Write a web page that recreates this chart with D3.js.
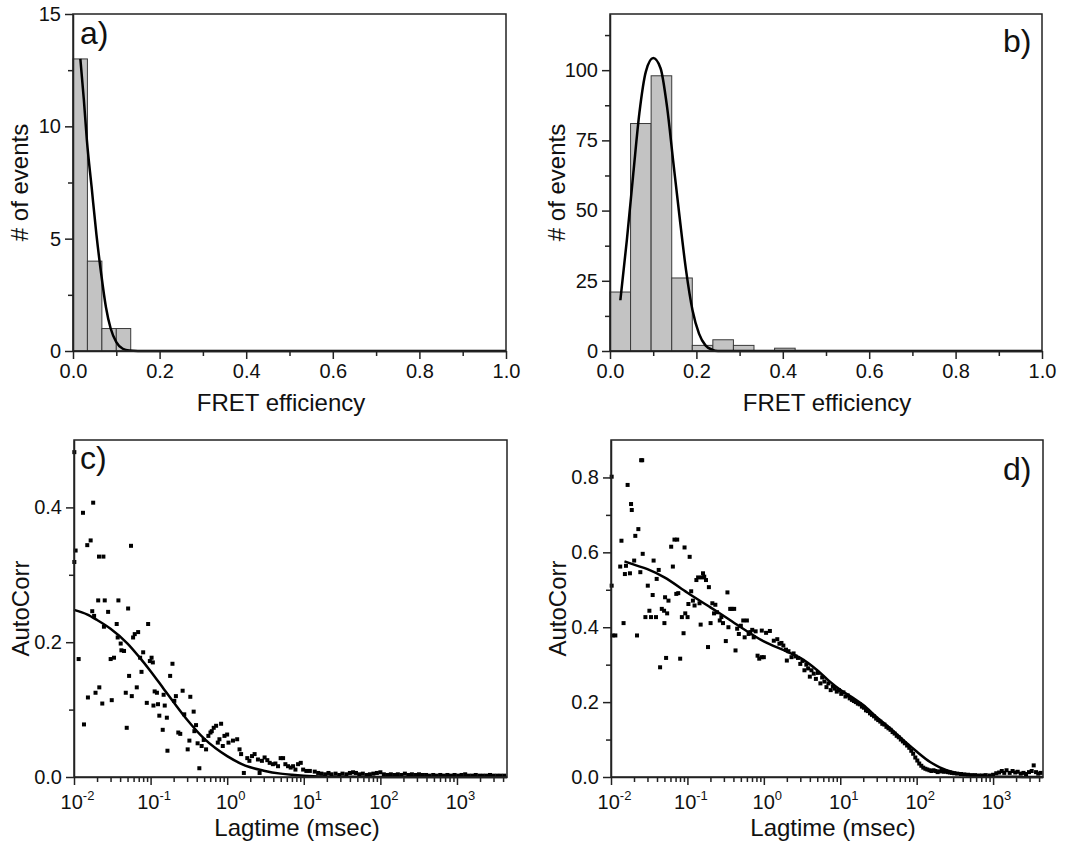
<!DOCTYPE html>
<html>
<head>
<meta charset="utf-8">
<script src="https://cdn.jsdelivr.net/npm/d3@7"></script>
<style>
  body { margin: 0; background: #fff; }
  svg text { font-family: "Liberation Sans", Arial, Helvetica, sans-serif; fill: #111; }
  .domain, .tick line { stroke: #222; stroke-width: 1.5; }
</style>
</head>
<body>
<div id="chart"></div>
<script>
// ---- data ----

// a) FRET histogram, low-FRET sample
const binEdgesA = [0, 0.0333, 0.0667, 0.1, 0.1333];
const countsA = [13, 4, 1, 1];
const fitXA = [0.017, 0.025, 0.032, 0.043, 0.054, 0.065, 0.076, 0.087, 0.1, 0.115, 0.13, 0.15, 1.0];
const fitYA = [13.0, 11.2, 9.4, 7.3, 5.2, 3.45, 1.96, 1.0, 0.4, 0.1, 0.02, 0, 0];

// b) FRET histogram
const binEdgesB = [0, 0.0476, 0.0952, 0.1429, 0.1905, 0.2381, 0.2857, 0.3333, 0.381, 0.4286];
const countsB = [21, 81, 98, 26, 2, 4, 2, 0, 1];
const fitXB = [0.024, 0.039, 0.054, 0.068, 0.083, 0.1, 0.117, 0.132, 0.146, 0.161, 0.176, 0.191, 0.206, 0.221, 0.236, 0.25, 1.0];
const fitYB = [18.1, 39.5, 63.3, 84.7, 99.5, 104.3, 100.7, 87, 68, 47.8, 28.8, 14.5, 6.2, 2.0, 0.5, 0, 0];

// c) autocorrelation, lag time in msec
const lagC = [0.0101, 0.0105, 0.0101, 0.0131, 0.0178, 0.0149, 0.0165, 0.0212, 0.0242, 0.0115,
  0.0135, 0.0152, 0.0191, 0.0214, 0.0234, 0.0207, 0.0252, 0.0173, 0.0183, 0.0279,
  0.0246, 0.0311, 0.0301, 0.0333, 0.038, 0.0361, 0.0372, 0.0407, 0.0416, 0.045,
  0.0474, 0.0488, 0.0509, 0.0555, 0.0524, 0.0568, 0.0591, 0.0621, 0.066, 0.0688,
  0.073, 0.0761, 0.080, 0.0892, 0.0929, 0.0978, 0.103, 0.107, 0.109, 0.113,
  0.121, 0.125, 0.130, 0.144, 0.148, 0.153, 0.166, 0.163, 0.180, 0.193,
  0.204, 0.214, 0.230, 0.244, 0.262, 0.275, 0.305, 0.321, 0.330, 0.365,
  0.373, 0.392, 0.411, 0.433, 0.464, 0.494, 0.530, 0.568, 0.605, 0.629,
  0.667, 0.717, 0.754, 0.792, 0.833, 0.876, 0.921, 0.999, 1.04, 1.19,
  1.35, 1.45, 1.52, 1.65, 1.83, 1.95, 2.11, 2.28, 2.52, 2.65,
  2.84, 3.08, 3.34, 3.59, 3.95, 4.26, 4.61, 4.99, 5.37, 5.75,
  6.23, 6.75, 7.25, 7.78, 8.42, 9.13, 9.81, 10.8, 12.0, 13.9,
  15.4, 17, 19, 21, 23, 26, 29, 32, 36, 40,
  44, 48, 53, 59, 66, 73, 81, 90, 100, 111,
  123, 137, 152, 169, 188, 209, 232, 258, 287, 319,
  355, 395, 440, 490, 545, 605, 675, 750, 835, 930,
  1035, 1150, 1280, 1420, 1580, 1760, 1960, 2180, 2430, 2700,
  3000, 3350, 3720, 4150];
const acC = [0.482, 0.336, 0.319, 0.392, 0.407, 0.344, 0.351, 0.327, 0.327, 0.175,
  0.078, 0.118, 0.125, 0.133, 0.109, 0.262, 0.262, 0.246, 0.239, 0.245,
  0.223, 0.114, 0.175, 0.177, 0.262, 0.227, 0.207, 0.198, 0.188, 0.187,
  0.125, 0.073, 0.250, 0.343, 0.150, 0.120, 0.207, 0.212, 0.133, 0.215,
  0.177, 0.156, 0.185, 0.110, 0.227, 0.172, 0.177, 0.170, 0.106, 0.127,
  0.125, 0.108, 0.091, 0.070, 0.122, 0.106, 0.039, 0.088, 0.150, 0.168,
  0.113, 0.120, 0.066, 0.064, 0.128, 0.093, 0.041, 0.054, 0.119, 0.097,
  0.068, 0.077, 0.050, 0.013, 0.046, 0.055, 0.041, 0.061, 0.066, 0.068,
  0.073, 0.076, 0.051, 0.056, 0.079, 0.046, 0.061, 0.063, 0.051, 0.054,
  0.056, 0.041, 0.034, 0.006, 0.028, 0.024, 0.031, 0.034, 0.026, 0.006,
  0.024, 0.029, 0.025, 0.021, 0.019, 0.020, 0.016, 0.028, 0.028, 0.019,
  0.016, 0.014, 0.016, 0.011, 0.019, 0.021, 0.011, 0.009, 0.009, 0.008,
  0.006, 0.005, 0.004, 0.006, 0.004, 0.005, 0.003, 0.005, 0.004, 0.006,
  0.007, 0.006, 0.004, 0.005, 0.003, 0.004, 0.005, 0.006, 0.007, 0.004,
  0.003, 0.004, 0.003, 0.004, 0.003, 0.005, 0.003, 0.004, 0.003, 0.004,
  0.003, 0.003, 0.002, 0.003, 0.002, 0.003, 0.002, 0.003, 0.002, 0.003,
  0.002, 0.003, 0.004, 0.002, 0.002, 0.003, 0.002, 0.002, 0.002, 0.003,
  0.002, 0.002, 0.002, 0.002];
const fitLagC = [0.01, 0.015, 0.02, 0.03, 0.05, 0.07, 0.1, 0.15, 0.2, 0.3, 0.5, 0.7, 1, 1.5, 2, 3, 5, 7, 10, 20, 50, 100, 1000, 4500];
const fitAcC = [0.248, 0.241, 0.233, 0.220, 0.198, 0.179, 0.157, 0.130, 0.111, 0.085, 0.057, 0.043, 0.031, 0.020, 0.0145, 0.0094, 0.005, 0.0033, 0.002, 0.0008, 0.0003, 0.0001, 0, 0];

// d) autocorrelation, lag time in msec
const lagD = [0.0102, 0.0102, 0.0105, 0.0114, 0.0137, 0.0146, 0.0132, 0.0152, 0.0157, 0.0165,
  0.0177, 0.0183, 0.0187, 0.0201, 0.0208, 0.0219, 0.0228, 0.0242, 0.0248, 0.0256,
  0.026, 0.0282, 0.0303, 0.0318, 0.0334, 0.0351, 0.0361, 0.0388, 0.0396, 0.0421,
  0.0439, 0.0462, 0.0495, 0.050, 0.051, 0.0526, 0.0543, 0.0565, 0.0613, 0.0645,
  0.0677, 0.0735, 0.0715, 0.0759, 0.0804, 0.0846, 0.089, 0.0917, 0.0937, 0.1005,
  0.103, 0.107, 0.112, 0.118, 0.124, 0.131, 0.138, 0.144, 0.149, 0.155,
  0.160, 0.166, 0.175, 0.186, 0.191, 0.201, 0.212, 0.223, 0.232, 0.244,
  0.265, 0.278, 0.292, 0.318, 0.334, 0.344, 0.363, 0.38, 0.409, 0.426,
  0.448, 0.471, 0.50, 0.538, 0.561, 0.60, 0.633, 0.664, 0.705, 0.737,
  0.781, 0.828, 0.871, 0.94, 0.94, 1.0, 1.07, 1.2, 1.35, 1.5,
  1.6, 1.7, 1.8, 1.95, 2.0, 2.1, 2.3, 2.45, 2.6, 2.8,
  3.0, 3.2, 3.4, 3.6, 3.8, 4.0, 4.2, 4.5, 4.8, 5.1,
  5.5, 5.8, 6.2, 6.6, 7.0, 7.5, 8.0, 8.5, 9.0, 9.6,
  10.3, 11, 11.7, 12.5, 13.3, 14.2, 15.1, 16, 17, 18,
  19.2, 20.4, 21.7, 23, 24.5, 26, 27.7, 29.5, 31.4, 33.4,
  35.5, 37.8, 40.2, 42.8, 45.5, 48.4, 51.5, 54.8, 58.3, 62,
  66, 70, 75, 80, 85, 90, 96, 102, 108, 115,
  122, 130, 138, 147, 156, 166, 177, 188, 200, 213,
  226, 240, 256, 272, 290, 310, 340, 380, 420, 470,
  520, 580, 650, 720, 800, 900, 1000, 1100, 1200, 1300,
  1400, 1500, 1650, 1800, 1950, 2100, 2300, 2500, 2700, 2950,
  3200, 3400, 3650, 3900, 4200];
const acD = [0.511, 0.802, 0.378, 0.378, 0.631, 0.411, 0.562, 0.542, 0.564, 0.780,
  0.544, 0.729, 0.713, 0.578, 0.644, 0.378, 0.662, 0.547, 0.846, 0.846,
  0.596, 0.427, 0.511, 0.444, 0.427, 0.486, 0.578, 0.427, 0.529, 0.553,
  0.293, 0.449, 0.444, 0.411, 0.48, 0.318, 0.437, 0.471, 0.615, 0.562,
  0.634, 0.634, 0.489, 0.491, 0.316, 0.427, 0.384, 0.613, 0.437, 0.427,
  0.462, 0.588, 0.496, 0.471, 0.458, 0.526, 0.533, 0.464, 0.407, 0.533,
  0.544, 0.535, 0.526, 0.347, 0.507, 0.411, 0.464, 0.437, 0.46, 0.44,
  0.418, 0.427, 0.411, 0.363, 0.493, 0.40, 0.449, 0.449, 0.449, 0.338,
  0.396, 0.382, 0.404, 0.418, 0.373, 0.418, 0.382, 0.387, 0.393, 0.373,
  0.389, 0.324, 0.316, 0.391, 0.32, 0.32, 0.385, 0.39, 0.364, 0.368,
  0.356, 0.358, 0.351, 0.34, 0.311, 0.336, 0.32, 0.33, 0.322, 0.318,
  0.302, 0.31, 0.285, 0.3, 0.29, 0.268, 0.285, 0.276, 0.262, 0.278,
  0.25, 0.266, 0.255, 0.24, 0.25, 0.232, 0.242, 0.236, 0.228, 0.232,
  0.222, 0.226, 0.215, 0.218, 0.21, 0.206, 0.203, 0.2, 0.196, 0.194,
  0.188, 0.185, 0.178, 0.176, 0.17, 0.166, 0.162, 0.156, 0.152, 0.148,
  0.142, 0.14, 0.134, 0.13, 0.126, 0.12, 0.116, 0.11, 0.106, 0.1,
  0.095, 0.09, 0.084, 0.078, 0.07, 0.062, 0.052, 0.044, 0.036, 0.03,
  0.025, 0.022, 0.02, 0.018, 0.016, 0.018, 0.016, 0.013, 0.015, 0.016,
  0.014, 0.015, 0.013, 0.012, 0.011, 0.01, 0.009, 0.008, 0.007, 0.006,
  0.005, 0.005, 0.004, 0.004, 0.005, 0.004, 0.006, 0.01, 0.012, 0.016,
  0.011, 0.018, 0.011, 0.016, 0.012, 0.014, 0.009, 0.011, 0.008, 0.013,
  0.016, 0.031, 0.013, 0.009, 0.011];
const fitLagD = [0.015, 0.02, 0.03, 0.05, 0.1, 0.2, 0.3, 0.5, 1, 2, 3, 5, 7, 10, 15, 20, 30, 50, 70, 100, 150, 200, 300, 500, 1000, 4500];
const fitAcD = [0.576, 0.567, 0.555, 0.533, 0.492, 0.453, 0.43, 0.40, 0.362, 0.335, 0.318, 0.285, 0.258, 0.233, 0.21, 0.192, 0.16, 0.122, 0.095, 0.068, 0.04, 0.026, 0.013, 0.005, 0.001, 0];

// ---- layout ----
const W = 1073, H = 845;
const svg = d3.select("#chart").append("svg")
  .attr("width", W)
  .attr("height", H);

const tickFont = 20, titleFont = 24, tagFont = 32;

function frame(box) {
  svg.append("rect")
    .attr("x", box.x0).attr("y", box.y0)
    .attr("width", box.x1 - box.x0).attr("height", box.y1 - box.y0)
    .attr("fill", "none").attr("stroke", "#222").attr("stroke-width", 1.5);
}

function yAxes(box, y, major, minor, fmt) {
  svg.append("g")
    .attr("transform", `translate(${box.x0},0)`)
    .call(d3.axisLeft(y).tickValues(minor).tickSize(5).tickFormat(""))
    .call(g => g.select(".domain").remove());
  svg.append("g")
    .attr("transform", `translate(${box.x0},0)`)
    .call(d3.axisLeft(y).tickValues(major).tickSize(8).tickSizeOuter(0).tickPadding(4).tickFormat(fmt))
    .call(g => g.selectAll("text").attr("font-size", tickFont));
}

function labels(box, tag, tagPos, xTitle, xPos, yTitle) {
  svg.append("text")
    .attr("x", tagPos[0]).attr("y", tagPos[1])
    .attr("font-size", tagFont)
    .text(tag);
  svg.append("text")
    .attr("x", xPos[0]).attr("y", xPos[1])
    .attr("text-anchor", "middle")
    .attr("font-size", titleFont)
    .text(xTitle);
  svg.append("text")
    .attr("transform", `translate(${box.x0 - 45},${(box.y0 + box.y1) / 2}) rotate(-90)`)
    .attr("text-anchor", "middle")
    .attr("font-size", titleFont)
    .text(yTitle);
}

function drawHist(box, edges, counts, fitX, fitY, yMax, yMajor, yMinor, tag, tagPos, titlePos) {
  let x = d3.scaleLinear().domain([0, 1]).range([box.x0, box.x1]);
  let y = d3.scaleLinear().domain([0, yMax]).range([box.y1, box.y0]);

  let bars = counts.map((c, i) => ({x0: edges[i], x1: edges[i + 1], n: c}));
  svg.append("g")
    .selectAll("rect")
    .data(bars.filter(d => d.n > 0))
    .join("rect")
    .attr("x", d => x(d.x0))
    .attr("y", d => y(d.n))
    .attr("width", d => x(d.x1) - x(d.x0))
    .attr("height", d => y(0) - y(d.n))
    .attr("fill", "#c3c3c3")
    .attr("stroke", "#3a3a3a")
    .attr("stroke-width", 1);

  let line = d3.line()
    .curve(d3.curveMonotoneX)
    .x((d, i) => x(fitX[i]))
    .y(d => y(d));
  svg.append("path")
    .datum(fitY)
    .attr("d", line)
    .attr("fill", "none")
    .attr("stroke", "#000")
    .attr("stroke-width", 2.5);

  frame(box);

  svg.append("g")
    .attr("transform", `translate(0,${box.y1})`)
    .call(d3.axisBottom(x).tickValues([0.1, 0.3, 0.5, 0.7, 0.9]).tickSize(5).tickFormat(""))
    .call(g => g.select(".domain").remove());
  svg.append("g")
    .attr("transform", `translate(0,${box.y1})`)
    .call(d3.axisBottom(x).tickValues([0, 0.2, 0.4, 0.6, 0.8, 1.0]).tickSize(8).tickSizeOuter(0).tickPadding(5).tickFormat(d3.format(".1f")))
    .call(g => g.selectAll("text").attr("font-size", tickFont));

  yAxes(box, y, yMajor, yMinor, d3.format("d"));
  labels(box, tag, tagPos, "FRET efficiency", titlePos, "# of events");
}

function drawFcs(box, lag, ac, fitLag, fitAc, yMax, yMajor, yMinor, tag, tagPos, titlePos) {
  let x = d3.scaleLog().domain([0.01, 4500]).range([box.x0, box.x1]);
  let y = d3.scaleLinear().domain([0, yMax]).range([box.y1, box.y0]);

  let line = d3.line()
    .curve(d3.curveMonotoneX)
    .x((d, i) => x(fitLag[i]))
    .y(d => y(d));
  svg.append("path")
    .datum(fitAc)
    .attr("d", line)
    .attr("fill", "none")
    .attr("stroke", "#000")
    .attr("stroke-width", 2.5);

  svg.append("g")
    .selectAll("rect")
    .data(lag)
    .join("rect")
    .attr("x", (d, i) => x(d) - 2)
    .attr("y", (d, i) => y(ac[i]) - 2)
    .attr("width", 4)
    .attr("height", 4)
    .attr("fill", "#000");

  frame(box);

  let minor = [];
  for (let e = -2; e <= 3; e++) {
    for (let m = 2; m <= 9; m++) {
      let v = m * Math.pow(10, e);
      if (v < 4500) minor.push(v);
    }
  }
  let major = [0.01, 0.1, 1, 10, 100, 1000];

  svg.append("g")
    .attr("transform", `translate(0,${box.y1})`)
    .call(d3.axisBottom(x).tickValues(minor).tickSize(5).tickFormat(""))
    .call(g => g.select(".domain").remove());
  let gx = svg.append("g")
    .attr("transform", `translate(0,${box.y1})`)
    .call(d3.axisBottom(x).tickValues(major).tickSize(8).tickSizeOuter(0).tickFormat(""));
  gx.selectAll(".tick")
    .append("text")
    .attr("x", 3)
    .attr("y", 32)
    .attr("text-anchor", "middle")
    .attr("font-size", tickFont)
    .attr("fill", "#111")
    .call(t => t.append("tspan").text("10"))
    .call(t => t.append("tspan")
      .attr("font-size", 13)
      .attr("dy", -9)
      .text(d => Math.round(Math.log10(d))));

  yAxes(box, y, yMajor, yMinor, d3.format(".1f"));
  labels(box, tag, tagPos, "Lagtime (msec)", titlePos, "AutoCorr");
}

const boxA = {x0: 73, x1: 506, y0: 14, y1: 351};
const boxB = {x0: 610, x1: 1042, y0: 14, y1: 351};
const boxC = {x0: 74, x1: 507, y0: 440, y1: 777};
const boxD = {x0: 611, x1: 1043, y0: 440, y1: 777};

drawHist(boxA, binEdgesA, countsA, fitXA, fitYA, 15, [0, 5, 10, 15], [2.5, 7.5, 12.5],
  "a)", [80, 44], [281, 411]);
drawHist(boxB, binEdgesB, countsB, fitXB, fitYB, 120, [0, 25, 50, 75, 100], [12.5, 37.5, 62.5, 87.5, 112.5],
  "b)", [1003, 52], [827, 411]);
drawFcs(boxC, lagC, acC, fitLagC, fitAcC, 0.5, [0, 0.2, 0.4], [0.1, 0.3],
  "c)", [80, 469], [297, 836]);
drawFcs(boxD, lagD, acD, fitLagD, fitAcD, 0.9, [0, 0.2, 0.4, 0.6, 0.8], [0.1, 0.3, 0.5, 0.7],
  "d)", [1003, 480], [833, 836]);
</script>
</body>
</html>
